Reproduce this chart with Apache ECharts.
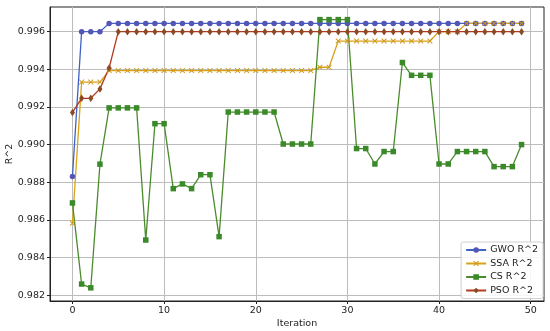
<!DOCTYPE html>
<html>
<head>
<meta charset="utf-8">
<script src="https://cdn.jsdelivr.net/npm/echarts@6/dist/echarts.min.js"></script>
<style>html,body{margin:0;padding:0;background:#fff}#c{width:550px;height:331px}</style>
</head>
<body>
<div id="c"></div>
<script>
const iterations = Array.from({length: 50}, (_, i) => i);
const xTicks = [0, 10, 20, 30, 40, 50];
const yTicks = [0.982, 0.984, 0.986, 0.988, 0.990, 0.992, 0.994, 0.996];
const seriesNames = ['GWO R^2', 'SSA R^2', 'CS R^2', 'PSO R^2'];
const gwo = [0.98831, 0.996, 0.996, 0.996,
  0.99644,0.99644,0.99644,0.99644,0.99644,0.99644,0.99644,0.99644,0.99644,0.99644,
  0.99644,0.99644,0.99644,0.99644,0.99644,0.99644,0.99644,0.99644,0.99644,0.99644,
  0.99644,0.99644,0.99644,0.99644,0.99644,0.99644,0.99644,0.99644,0.99644,0.99644,
  0.99644,0.99644,0.99644,0.99644,0.99644,0.99644,0.99644,0.99644,0.99644,0.99644,
  0.99644,0.99644,0.99644,0.99644,0.99644,0.99644];
const ssa = [0.98582, 0.99332, 0.99332, 0.99332,
  0.99393,0.99393,0.99393,0.99393,0.99393,0.99393,0.99393,0.99393,0.99393,0.99393,
  0.99393,0.99393,0.99393,0.99393,0.99393,0.99393,0.99393,0.99393,0.99393,0.99393,
  0.99393,0.99393,0.99393,
  0.99411, 0.99411,
  0.9955,0.9955,0.9955,0.9955,0.9955,0.9955,0.9955,0.9955,0.9955,0.9955,0.9955,
  0.996, 0.996, 0.996,
  0.99644,0.99644,0.99644,0.99644,0.99644,0.99644,0.99644];
const cs = [0.98690, 0.98259, 0.98239, 0.98896,
  0.99195, 0.99195, 0.99195, 0.99195,
  0.98493, 0.99111, 0.99111,
  0.98766, 0.98791, 0.98766, 0.98840, 0.98840, 0.98511,
  0.99173, 0.99173, 0.99173, 0.99173, 0.99173, 0.99173,
  0.99003, 0.99003, 0.99003, 0.99003,
  0.99664, 0.99664, 0.99664, 0.99664,
  0.98979, 0.98979, 0.98897, 0.98963, 0.98963,
  0.99436, 0.99368, 0.99368, 0.99368,
  0.98897, 0.98897,
  0.98963, 0.98963, 0.98963, 0.98963,
  0.98883, 0.98883, 0.98883, 0.99000];
const pso = [0.99171, 0.99246, 0.99246, 0.99296, 0.99407,
  0.996,0.996,0.996,0.996,0.996,0.996,0.996,0.996,0.996,0.996,
  0.996,0.996,0.996,0.996,0.996,0.996,0.996,0.996,0.996,0.996,
  0.996,0.996,0.996,0.996,0.996,0.996,0.996,0.996,0.996,0.996,
  0.996,0.996,0.996,0.996,0.996,0.996,0.996,0.996,0.996,0.996,
  0.996,0.996,0.996,0.996,0.996];

const font = 'DejaVu Sans';
const xMark = 'path://M0,1.3L1.3,0L5,3.7L8.7,0L10,1.3L6.3,5L10,8.7L8.7,10L5,6.3L1.3,10L0,8.7L3.7,5Z';
function pairs(arr){ return arr.map((v,i)=>[iterations[i], v]); }
function mk(name, data, color, markColor, symbol, size){
  return {
    name: name, type: 'line', data: pairs(data),
    symbol: symbol, symbolSize: size, showSymbol: true,
    lineStyle: {color: color, width: 1.3},
    itemStyle: {color: markColor},
    emphasis: {disabled: true},
    animation: false
  };
}
const chart = echarts.init(document.getElementById('c'), null, {renderer: 'canvas'});
chart.setOption({
  animation: false,
  backgroundColor: '#fff',
  grid: {left: 50, right: 6, top: 7, bottom: 30, show: true, borderColor: '#222', borderWidth: 1,
    backgroundColor: 'transparent', outerBoundsMode: 'none'},
  xAxis: {
    type: 'value', min: -2.45, max: 51.45, splitNumber: 5,
    name: 'Iteration', nameLocation: 'middle', nameGap: 18, nameMoveOverlap: false,
    nameTextStyle: {fontFamily: font, fontSize: 9.5, color: '#222'},
    axisLine: {show: true, onZero: false, lineStyle: {color: '#222', width: 1}},
    axisTick: {show: true, length: 3, customValues: xTicks, lineStyle: {color: '#222'}},
    axisLabel: {fontFamily: font, fontSize: 9.5, color: '#222', margin: 5, customValues: xTicks,
      formatter: v => String(Math.round(v))},
    splitLine: {show: true, lineStyle: {color: '#bcbcbc', width: 1}}
  },
  yAxis: {
    type: 'value', min: 0.98169, max: 0.99731, splitNumber: 8,
    name: 'R^2', nameLocation: 'middle', nameGap: 35, nameRotate: 90, nameMoveOverlap: false,
    nameTextStyle: {fontFamily: font, fontSize: 9.5, color: '#222'},
    axisLine: {show: true, onZero: false, lineStyle: {color: '#222', width: 1}},
    axisTick: {show: true, length: 3, customValues: yTicks, lineStyle: {color: '#222'}},
    axisLabel: {fontFamily: font, fontSize: 9.5, color: '#222', margin: 5, customValues: yTicks,
      formatter: v => v.toFixed(3)},
    splitLine: {show: true, lineStyle: {color: '#bcbcbc', width: 1}}
  },
  legend: {
    orient: 'vertical', right: 7, top: 242,
    itemWidth: 20, itemHeight: 7, itemGap: 3.5,
    padding: [3, 5, 3, 4],
    backgroundColor: 'rgba(255,255,255,0.85)', borderColor: '#d0d0d0', borderWidth: 1, borderRadius: 2,
    textStyle: {fontFamily: font, fontSize: 9.5, color: '#222', padding: [0,0,0,-1]},
    data: seriesNames
  },
  series: [
    mk(seriesNames[0], gwo, '#3f63c2', '#5456b6', 'circle', 5.5),
    mk(seriesNames[1], ssa, '#d9a21a', '#cf9a1e', xMark, 5.5),
    mk(seriesNames[2], cs, '#4a8c2c', '#3a8a2a', 'rect', 5.5),
    mk(seriesNames[3], pso, '#b23a1e', '#8b4a26', 'diamond', [5, 7.5])
  ]
});
</script>
</body>
</html>
